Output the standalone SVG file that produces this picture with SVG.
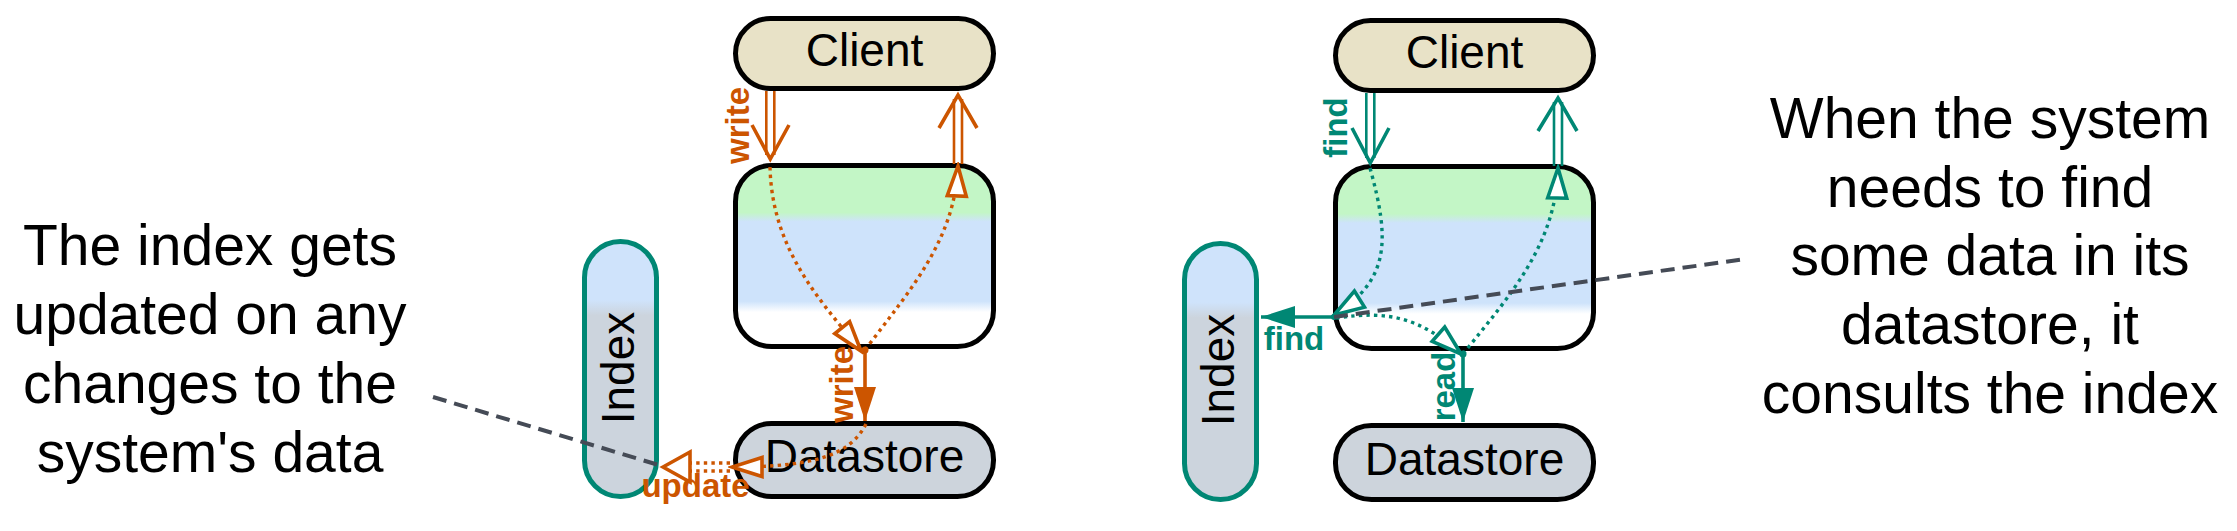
<svg xmlns="http://www.w3.org/2000/svg" width="2237" height="531" viewBox="0 0 2237 531">
<style>
.node{stroke:#000;stroke-width:5}
.idx{stroke:#008774;stroke-width:5}
.lbl{font-family:"Liberation Sans",Arial,sans-serif;font-size:46px;fill:#000;text-anchor:middle}
.note{font-family:"Liberation Sans",Arial,sans-serif;font-size:57px;fill:#000;text-anchor:middle}
.el{font-family:"Liberation Sans",Arial,sans-serif;font-size:33px;font-weight:bold;text-anchor:middle}
.o{stroke:#cc5500;fill:none}
.t{stroke:#008774;fill:none}
.dbl{stroke-width:2.6}
.chev{stroke-width:3.6;stroke-linejoin:miter}
.dot{stroke-width:3.4;stroke-dasharray:3.4 4.2}
.sol{stroke-width:3.6}
.dash{stroke:#454b56;stroke-width:4;stroke-dasharray:14 8;fill:none}
</style>
<defs>
<linearGradient id="gBox" x1="0" y1="0" x2="0" y2="1">
<stop offset="0" stop-color="#c3f6c6"/>
<stop offset="0.26" stop-color="#c3f6c6"/>
<stop offset="0.31" stop-color="#cee3fb"/>
<stop offset="0.75" stop-color="#cee3fb"/>
<stop offset="0.81" stop-color="#ffffff"/>
<stop offset="1" stop-color="#ffffff"/>
</linearGradient>
<linearGradient id="gIdx" x1="0" y1="0" x2="0" y2="1">
<stop offset="0" stop-color="#cfe3fb"/>
<stop offset="0.23" stop-color="#cfe3fb"/>
<stop offset="0.29" stop-color="#ccd4dd"/>
<stop offset="1" stop-color="#ccd4dd"/>
</linearGradient>
<marker id="otriO" markerUnits="userSpaceOnUse" viewBox="-34 -14 38 28" markerWidth="38" markerHeight="28" refX="0" refY="0" orient="auto">
<path d="M0,0 L-30,-9.5 L-30,9.5 Z" fill="#fff" stroke="#cc5500" stroke-width="3.6"/>
</marker>
<marker id="otriT" markerUnits="userSpaceOnUse" viewBox="-34 -14 38 28" markerWidth="38" markerHeight="28" refX="0" refY="0" orient="auto">
<path d="M0,0 L-30,-9.5 L-30,9.5 Z" fill="#fff" stroke="#008774" stroke-width="3.6"/>
</marker>
<marker id="ftriO" markerUnits="userSpaceOnUse" viewBox="-36 -14 38 28" markerWidth="38" markerHeight="28" refX="0" refY="0" orient="auto">
<path d="M0,0 L-34,-11 L-34,11 Z" fill="#cc5500"/>
</marker>
<marker id="ftriT" markerUnits="userSpaceOnUse" viewBox="-36 -14 38 28" markerWidth="38" markerHeight="28" refX="0" refY="0" orient="auto">
<path d="M0,0 L-34,-11 L-34,11 Z" fill="#008774"/>
</marker>
</defs>
<rect width="2237" height="531" fill="#fff"/>

<g id="note-left">
<text class="note" x="210" y="265">The index gets</text>
<text class="note" x="210" y="334">updated on any</text>
<text class="note" x="210" y="403">changes to the</text>
<text class="note" x="210" y="472">system's data</text>
</g>
<g id="note-right">
<text class="note" x="1990" y="138">When the system</text>
<text class="note" x="1990" y="207">needs to find</text>
<text class="note" x="1990" y="275">some data in its</text>
<text class="note" x="1990" y="344">datastore, it</text>
<text class="note" x="1990" y="413">consults the index</text>
</g>

<g id="client-left"><rect class="node" x="735.5" y="18.5" width="258" height="70" rx="35" fill="#e8e2c7"/><text class="lbl" x="864.5" y="66">Client</text></g>
<g id="system-left"><rect class="node" x="735.5" y="165.5" width="258" height="181" rx="36" fill="url(#gBox)"/></g>
<g id="datastore-left"><rect class="node" x="735.5" y="423.5" width="258" height="73" rx="36" fill="#cdd4dc"/><text class="lbl" x="864.5" y="472">Datastore</text></g>
<g id="index-left"><rect class="idx" x="584.5" y="241.5" width="72" height="255" rx="36" fill="url(#gIdx)"/><text class="lbl" transform="translate(634,368) rotate(-90)">Index</text></g>

<g id="client-right"><rect class="node" x="1335.5" y="20.5" width="258" height="70" rx="35" fill="#e8e2c7"/><text class="lbl" x="1464.5" y="68">Client</text></g>
<g id="system-right"><rect class="node" x="1335.5" y="166.5" width="258" height="182" rx="36" fill="url(#gBox)"/></g>
<g id="datastore-right"><rect class="node" x="1335.5" y="425.5" width="258" height="74" rx="36" fill="#cdd4dc"/><text class="lbl" x="1464.5" y="475">Datastore</text></g>
<g id="index-right"><rect class="idx" x="1184.5" y="243.5" width="72" height="256" rx="36" fill="url(#gIdx)"/><text class="lbl" transform="translate(1234,370) rotate(-90)">Index</text></g>

<g id="connectors">
<path class="o dbl" d="M766.3,91 V155 M774.3,91 V155"/>
<path class="o chev" d="M752,125 L770.3,159 L789,125"/>
<path class="o dbl" d="M954,164 V99 M962,164 V99"/>
<path class="o chev" d="M939,128 L958,95 L977,128"/>
<path class="o dot" d="M770,167 C772,250 820,300 861,351" marker-end="url(#otriO)"/>
<path class="o dot" d="M865,350 C910,290 955,240 958,166" marker-end="url(#otriO)"/>
<path class="o sol" d="M865,350 V421" marker-end="url(#ftriO)"/>
<circle cx="865" cy="350" r="3.5" fill="#cc5500"/>
<path class="o dot" d="M866,424 C850,455 815,467 732,467" marker-end="url(#otriO)"/>
<path class="o dot" d="M730,463 H691 M730,471 H691"/>
<path d="M663,467 L690,452 L690,482 Z" fill="#fff" stroke="#cc5500" stroke-width="3.6"/>
<text class="el" fill="#cc5500" transform="translate(749,125.5) rotate(-90)">write</text>
<text class="el" fill="#cc5500" transform="translate(853,384.5) rotate(-90)">write</text>
<text class="el" fill="#cc5500" x="695.5" y="497">update</text>

<path class="t dbl" d="M1366.3,93 V158 M1374.3,93 V158"/>
<path class="t chev" d="M1352,128 L1370.3,163 L1389,128"/>
<path class="t dbl" d="M1554,166 V102 M1562,166 V102"/>
<path class="t chev" d="M1538,131 L1558,98 L1577,131"/>
<path class="t dot" d="M1370,168 C1390,240 1390,280 1334,315" marker-end="url(#otriT)"/>
<path class="t sol" d="M1334,317 H1261" marker-end="url(#ftriT)"/>
<circle cx="1334" cy="317" r="3" fill="#008774"/>
<path class="t dot" d="M1336,318 C1390,310 1420,318 1461,354" marker-end="url(#otriT)"/>
<path class="t dot" d="M1463,354 C1510,295 1556,245 1558,168" marker-end="url(#otriT)"/>
<path class="t sol" d="M1463,354 V422" marker-end="url(#ftriT)"/>
<circle cx="1463" cy="354" r="3.5" fill="#008774"/>
<text class="el" fill="#008774" transform="translate(1347,127.5) rotate(-90)">find</text>
<text class="el" fill="#008774" transform="translate(1455,386.5) rotate(-90)">read</text>
<text class="el" fill="#008774" x="1294" y="350">find</text>

<path class="dash" d="M433,397 L662,466"/>
<path class="dash" d="M1334,317 L1745,259"/>
</g>
</svg>
